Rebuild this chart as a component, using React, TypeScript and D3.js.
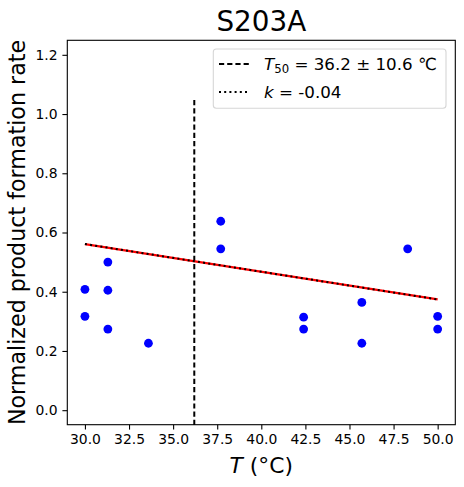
import React, { useEffect, useRef } from 'react';
import * as d3 from 'd3';

// measured points (temperature in °C, normalized rate)
const tempC = [30, 30, 31.3, 31.3, 31.3, 33.6, 37.7, 37.7, 42.4, 42.4, 45.7, 45.7, 48.3, 50, 50];
const rate = [0.408, 0.317, 0.5, 0.405, 0.274, 0.226, 0.638, 0.545, 0.314, 0.274, 0.364, 0.226, 0.545, 0.317, 0.274];

// linear fit endpoints
const fitX = [30, 50];
const fitY = [0.561, 0.374];

const t50 = 36.2;
const t50Err = 10.6;
const t50Span = [-0.05, 1.05];
const slopeK = -0.04;

const xTicks = [30, 32.5, 35, 37.5, 40, 42.5, 45, 47.5, 50];
const yTicks = [0, 0.2, 0.4, 0.6, 0.8, 1.0, 1.2];

const W = 464;
const H = 487;
const FONT = 'DejaVu Sans, sans-serif';

const App: React.FC = () => {
  const ref = useRef<SVGSVGElement | null>(null);

  useEffect(() => {
    const svg = d3.select(ref.current);
    svg.selectAll('*').remove();

    const margin = { top: 40.3, right: W - 455.3, bottom: H - 424.7, left: 67.3 };
    const x = d3.scaleLinear().domain([29, 51]).range([margin.left, W - margin.right]);
    const y = d3.scaleLinear().domain([-0.049, 1.249]).range([H - margin.bottom, margin.top]);

    // axes
    const xAxis = svg.append('g')
      .attr('transform', `translate(0,${H - margin.bottom})`)
      .call(d3.axisBottom(x).tickValues(xTicks).tickFormat(d3.format('.1f')).tickSize(4.9).tickPadding(4.9));
    const yAxis = svg.append('g')
      .attr('transform', `translate(${margin.left},0)`)
      .call(d3.axisLeft(y).tickValues(yTicks).tickFormat(d3.format('.1f')).tickSize(4.9).tickPadding(4.9));
    [xAxis, yAxis].forEach((g) => {
      g.select('.domain').remove();
      g.selectAll('line').attr('stroke', '#000').attr('stroke-width', 1.1);
      g.selectAll('text').attr('font-family', FONT).attr('font-size', 13.9).attr('fill', '#000');
    });

    // dashed T50 line
    svg.append('line')
      .attr('x1', x(t50)).attr('x2', x(t50))
      .attr('y1', y(t50Span[0])).attr('y2', y(t50Span[1]))
      .attr('stroke', '#000').attr('stroke-width', 2)
      .attr('stroke-dasharray', '5.2,3');

    // points
    svg.append('g')
      .selectAll('circle')
      .data(tempC.map((t, i) => [t, rate[i]]))
      .join('circle')
      .attr('cx', (d) => x(d[0]))
      .attr('cy', (d) => y(d[1]))
      .attr('r', 4.4)
      .attr('fill', '#0000ff');

    // fit line: red under black dotted
    const line = d3.line<number>().x((d) => x(d)).y((_, i) => y(fitY[i]));
    svg.append('path').datum(fitX).attr('d', line)
      .attr('fill', 'none').attr('stroke', '#ff0000').attr('stroke-width', 2.2);
    svg.append('path').datum(fitX).attr('d', line)
      .attr('fill', 'none').attr('stroke', '#000').attr('stroke-width', 2)
      .attr('stroke-dasharray', '2,3.2');

    // frame
    svg.append('rect')
      .attr('x', margin.left).attr('y', margin.top)
      .attr('width', W - margin.left - margin.right)
      .attr('height', H - margin.top - margin.bottom)
      .attr('fill', 'none').attr('stroke', '#000').attr('stroke-width', 1.1);

    // title
    svg.append('text')
      .attr('x', (margin.left + W - margin.right) / 2).attr('y', 31)
      .attr('text-anchor', 'middle').attr('font-family', FONT).attr('font-size', 27.8)
      .text('S203A');

    // x label
    const xl = svg.append('text')
      .attr('x', (margin.left + W - margin.right) / 2).attr('y', 472.5)
      .attr('text-anchor', 'middle').attr('font-family', FONT).attr('font-size', 21.8);
    xl.append('tspan').attr('font-style', 'italic').text('T');
    xl.append('tspan').text(' (°C)');

    // y label
    svg.append('text')
      .attr('transform', `translate(25,${(margin.top + H - margin.bottom) / 2}) rotate(-90)`)
      .attr('text-anchor', 'middle').attr('font-family', FONT).attr('font-size', 22.2)
      .text('Normalized product formation rate');

    // legend
    const lg = svg.append('g');
    lg.append('rect')
      .attr('x', 213.3).attr('y', 49).attr('width', 232.7).attr('height', 59.3)
      .attr('rx', 3).attr('fill', '#fff').attr('stroke', '#d6d6d6').attr('stroke-width', 1.1);
    const rows = [64, 92];
    lg.append('line').attr('x1', 219).attr('x2', 250).attr('y1', rows[0]).attr('y2', rows[0])
      .attr('stroke', '#000').attr('stroke-width', 2).attr('stroke-dasharray', '5.2,3');
    lg.append('line').attr('x1', 219).attr('x2', 250).attr('y1', rows[1]).attr('y2', rows[1])
      .attr('stroke', '#000').attr('stroke-width', 2).attr('stroke-dasharray', '2,3.2');

    const t1 = lg.append('text').attr('x', 264).attr('y', rows[0] + 6)
      .attr('font-family', FONT).attr('font-size', 16.7);
    t1.append('tspan').attr('font-style', 'italic').text('T');
    t1.append('tspan').attr('font-size', 11.7).attr('dy', 3).text('50');
    t1.append('tspan').attr('dy', -3).text(` = ${t50} ± ${t50Err} ℃`);

    const t2 = lg.append('text').attr('x', 264).attr('y', rows[1] + 6)
      .attr('font-family', FONT).attr('font-size', 16.7);
    t2.append('tspan').attr('font-style', 'italic').text('k');
    t2.append('tspan').text(` = ${slopeK.toFixed(2)}`);
  }, []);

  return (
    <div style={{ position: 'absolute', left: 0, top: 0 }}>
      <svg ref={ref} width={W} height={H} style={{ display: 'block', background: '#fff' }}></svg>
    </div>
  );
};

export default App;
